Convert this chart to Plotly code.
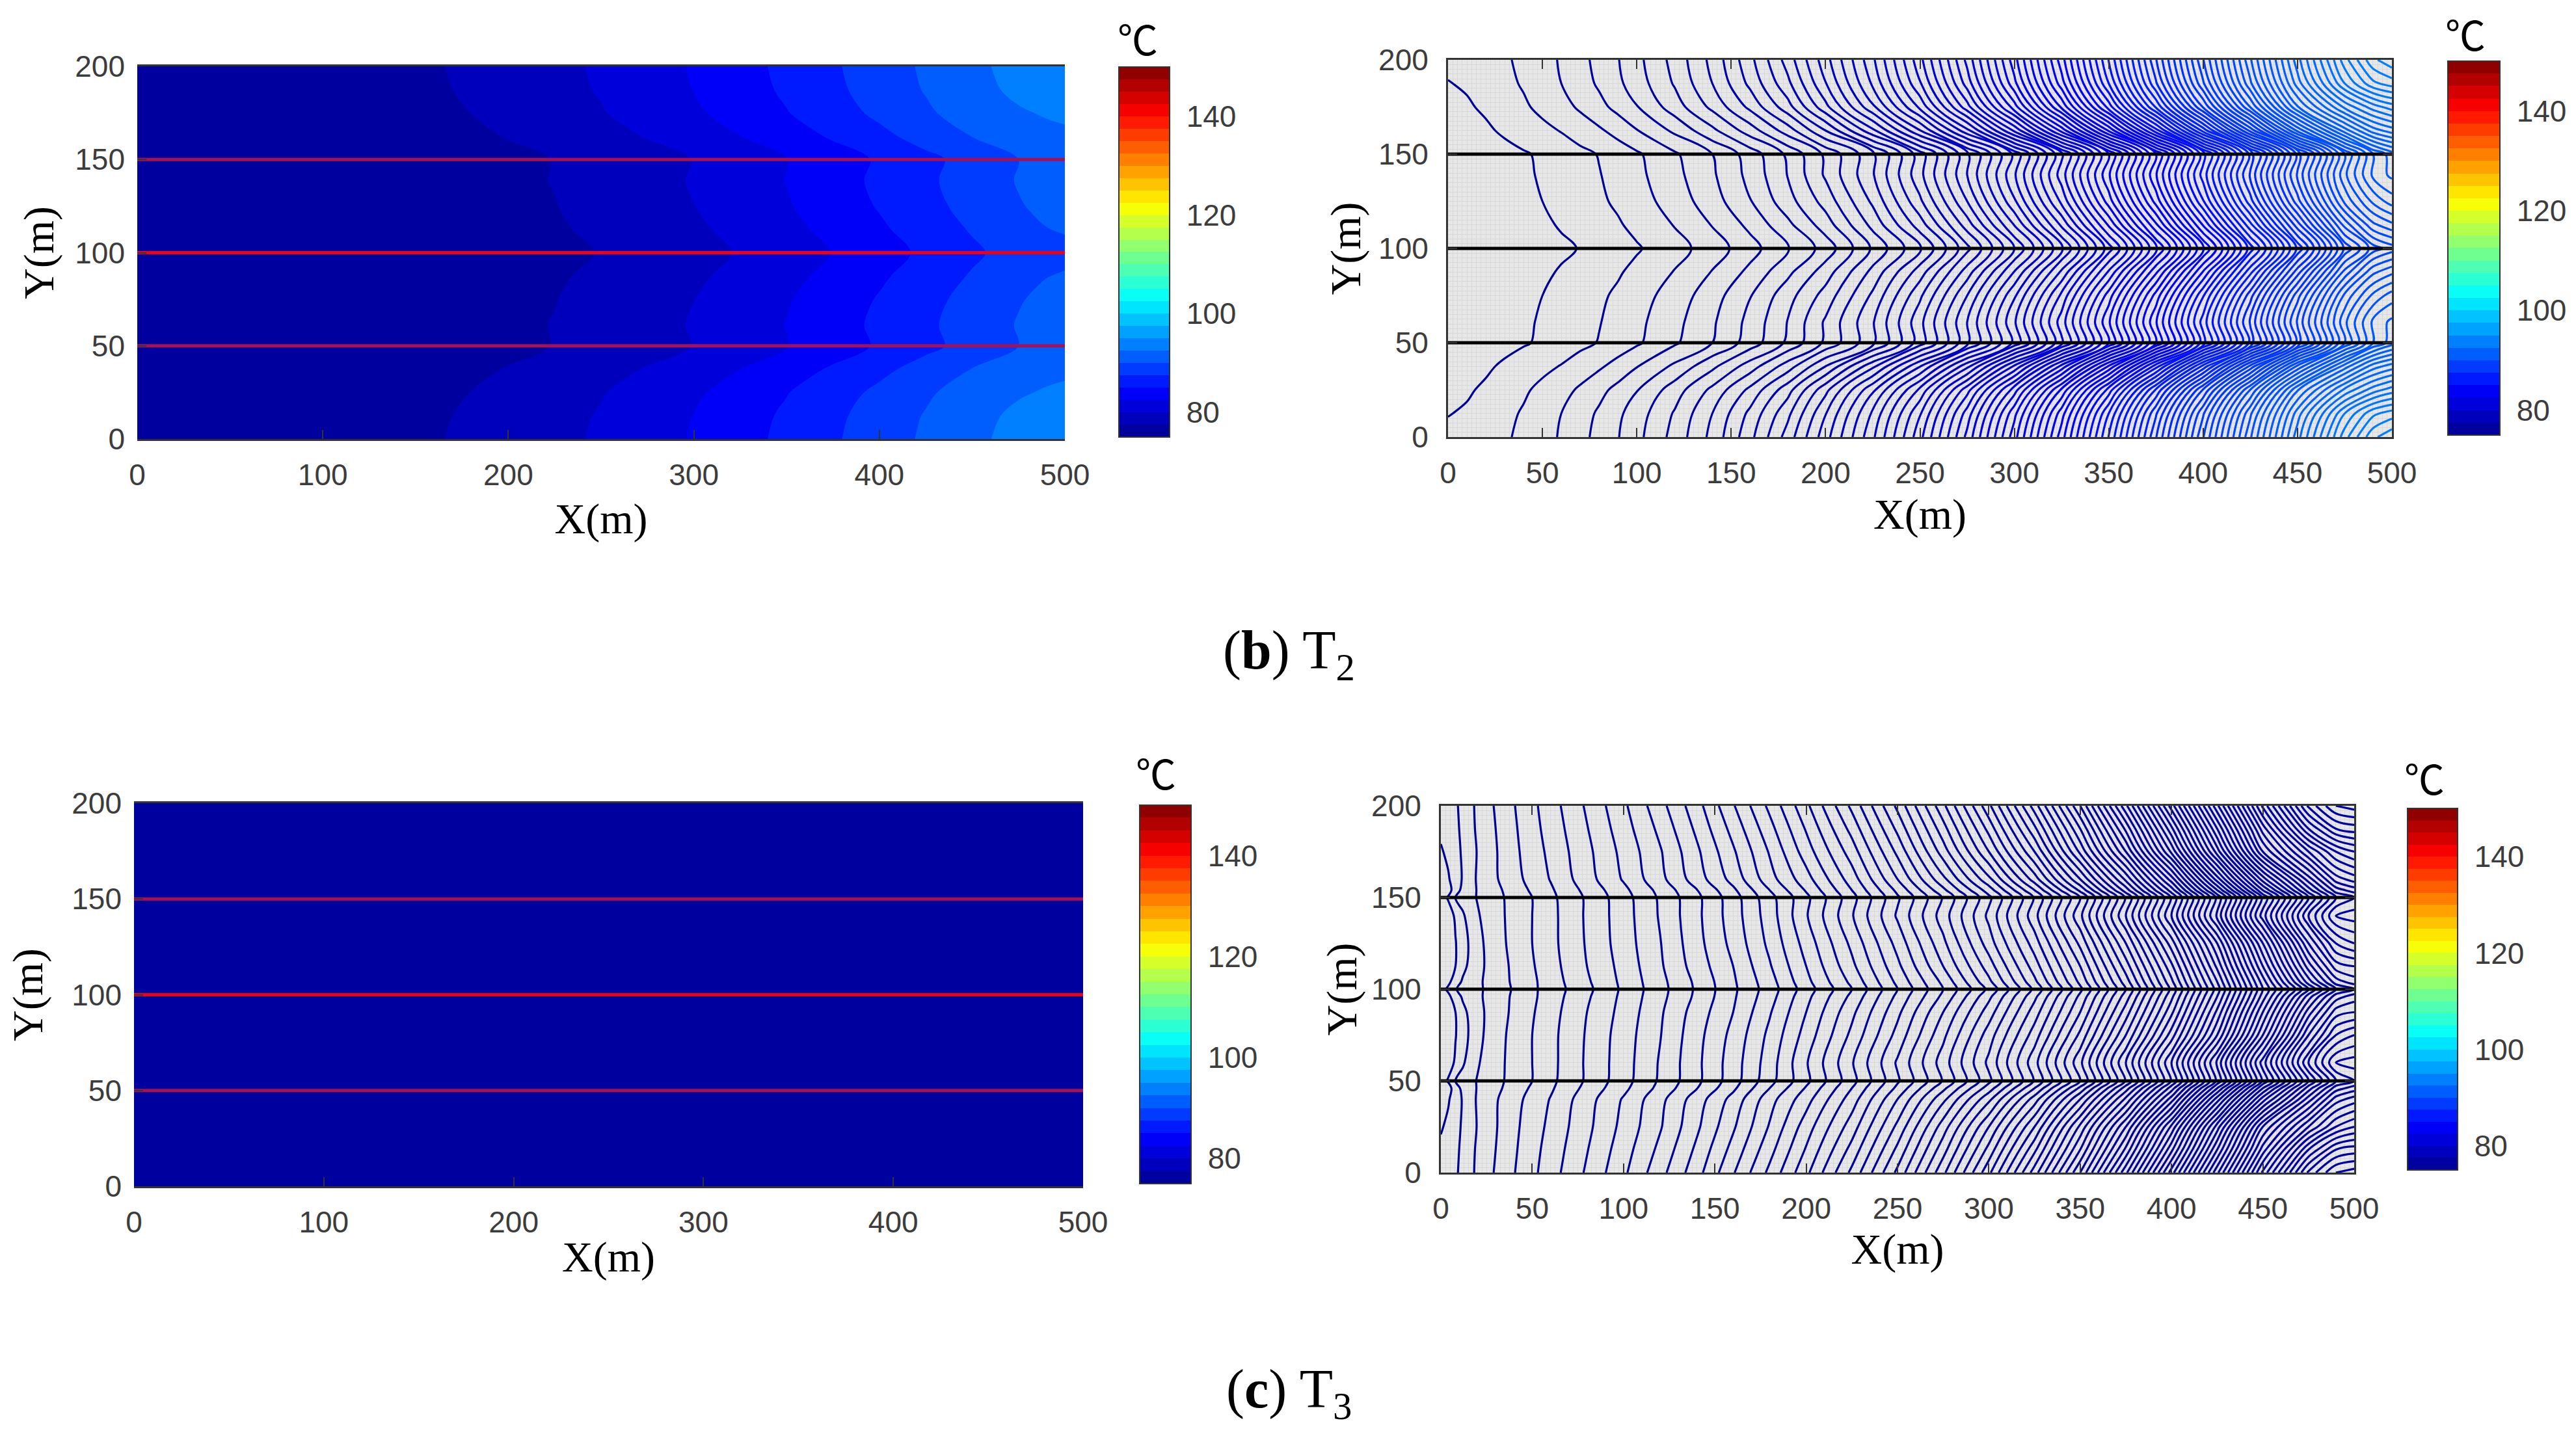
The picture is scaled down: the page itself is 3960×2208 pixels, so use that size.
import plotly.graph_objects as go

W, H = 3960, 2208

# ---------- data ----------
T_BASE = 75.0
CBAR_MIN, CBAR_MAX, CBAR_BANDS = 75.0, 150.0, 30
CBAR_TICKS = [80, 100, 120, 140]
FRACTURE_Y = [50, 100, 150]
Y_TICKS = [0, 50, 100, 150, 200]
X_TICKS_COARSE = [0, 100, 200, 300, 400, 500]
X_TICKS_FINE = [0, 50, 100, 150, 200, 250, 300, 350, 400, 450, 500]

T2_X = [0, 10, 20, 30, 40, 50, 60, 70, 80, 90, 100, 120, 140, 160, 180, 200, 225, 250, 275, 300,
        325, 350, 375, 400, 425, 450, 475, 490, 500]
T2_Y_LOWER = [0, 12.5, 25, 37.5, 50, 61, 75, 87.5, 100]
T2_RISE_LOWER = [
    [.26, .28, .32, .37, .45, .53, .62, .74, .86, .99, 1.14, 1.47, 1.86, 2.34, 2.89, 3.52, 4.36, 5.335, 6.46, 7.72, 9.11, 10.61, 12.185, 13.785, 15.37, 16.92, 18.32, 18.95, 19.15],
    [.19, .23, .28, .35, .42, .51, .6, .71, .83, .96, 1.1, 1.42, 1.8, 2.25, 2.75, 3.39, 4.24, 5.18, 6.29, 7.54, 8.91, 10.4, 11.97, 13.57, 15.16, 16.7, 18.0, 18.55, 18.7],
    [.1, .17, .24, .31, .37, .45, .53, .63, .74, .86, .99, 1.3, 1.65, 2.05, 2.52, 3.14, 3.96, 4.85, 5.92, 7.11, 8.44, 9.89, 11.43, 13.02, 14.61, 16.18, 17.25, 17.7, 17.9],
    [.04, .08, .16, .24, .3, .35, .41, .49, .57, .67, .79, 1.04, 1.35, 1.7, 2.1, 2.6, 3.35, 4.19, 5.14, 6.235, 7.47, 8.83, 10.31, 11.87, 13.465, 15.05, 16.3, 16.9, 17.1],
    [0, .03, .07, .12, .18, .23, .29, .35, .41, .49, .57, .77, 1.0, 1.29, 1.64, 2.04, 2.55, 3.3, 4.15, 5.05, 6.15, 7.4, 8.8, 10.3, 11.85, 13.45, 15.0, 15.8, 16.1],
    [0, .03, .07, .12, .17, .22, .28, .33, .39, .47, .55, .74, .97, 1.26, 1.61, 2.03, 2.58, 3.34, 4.2, 5.17, 6.3, 7.57, 8.98, 10.49, 12.04, 13.64, 15.15, 15.85, 16.05],
    [0, .02, .06, .1, .15, .2, .26, .31, .37, .43, .51, .69, .91, 1.19, 1.52, 1.88, 2.44, 3.16, 4.0, 4.97, 6.05, 7.3, 8.68, 10.18, 11.72, 13.32, 14.85, 15.45, 15.7],
    [0, .01, .03, .07, .11, .16, .22, .27, .33, .38, .45, .61, .81, 1.05, 1.35, 1.7, 2.26, 2.9, 3.7, 4.61, 5.64, 6.83, 8.16, 9.62, 11.14, 12.71, 14.27, 14.95, 15.15],
    [0, .01, .02, .05, .08, .11, .16, .21, .26, .32, .38, .52, .7, .92, 1.19, 1.48, 2.03, 2.58, 3.34, 4.2, 5.17, 6.3, 7.57, 8.98, 10.49, 12.04, 13.64, 14.3, 14.5],
]

T3_X = [0, 4, 8, 12, 16, 20, 30, 40, 50, 60, 80, 100, 120, 140, 160, 180, 200, 225, 250, 275, 300,
        325, 350, 375, 400, 425, 450, 475, 490, 500]
T3_Y_LOWER = [0, 12.5, 25, 40, 46, 50, 60, 75, 87.5, 96, 100]
T3_RISE_LOWER = [
    [.03, .032, .037, .046, .055, .064, .082, .099, .115, .131, .163, .196, .233, .272, .318, .365, .415, .485, .565, .655, .755, .87, 1.0, 1.155, 1.33, 1.515, 1.705, 1.865, 1.92, 1.93],
    [.024, .028, .035, .045, .054, .063, .08, .097, .113, .128, .159, .191, .225, .264, .307, .353, .402, .467, .545, .632, .727, .835, .96, 1.105, 1.275, 1.46, 1.65, 1.80, 1.86, 1.87],
    [.018, .024, .033, .043, .052, .061, .0785, .0955, .11, .125, .155, .186, .218, .256, .297, .342, .39, .45, .525, .61, .70, .80, .925, 1.06, 1.225, 1.41, 1.60, 1.72, 1.78, 1.80],
    [.012, .018, .029, .042, .053, .062, .078, .093, .107, .121, .152, .182, .214, .25, .287, .332, .372, .43, .50, .575, .655, .75, .86, .985, 1.13, 1.31, 1.49, 1.63, 1.71, 1.73],
    [.008, .012, .03, .046, .054, .061, .075, .089, .103, .117, .146, .175, .206, .239, .276, .32, .362, .42, .485, .555, .63, .72, .825, .95, 1.09, 1.26, 1.44, 1.59, 1.67, 1.69],
    [.01, .022, .041, .048, .055, .061, .074, .087, .10, .115, .143, .172, .203, .235, .271, .313, .355, .413, .477, .542, .615, .702, .80, .922, 1.062, 1.225, 1.404, 1.56, 1.64, 1.66],
    [.003, .01, .023, .037, .049, .058, .073, .087, .10, .114, .143, .171, .202, .235, .27, .31, .358, .418, .483, .55, .625, .713, .815, .94, 1.08, 1.245, 1.43, 1.60, 1.68, 1.69],
    [0, .01, .019, .031, .043, .054, .072, .086, .10, .114, .142, .17, .199, .233, .266, .305, .348, .405, .467, .535, .61, .69, .785, .90, 1.03, 1.18, 1.36, 1.54, 1.62, 1.64],
    [.002, .01, .02, .034, .045, .054, .07, .084, .098, .112, .14, .167, .197, .229, .26, .298, .34, .395, .455, .52, .59, .67, .76, .87, .995, 1.145, 1.32, 1.49, 1.57, 1.58],
    [.008, .015, .03, .043, .05, .056, .07, .083, .096, .11, .137, .165, .194, .224, .257, .292, .334, .385, .445, .505, .575, .655, .745, .85, .975, 1.12, 1.29, 1.45, 1.53, 1.55],
    [.01, .024, .039, .045, .051, .056, .069, .082, .096, .109, .135, .164, .193, .223, .256, .29, .33, .38, .44, .50, .565, .645, .735, .84, .965, 1.11, 1.28, 1.42, 1.50, 1.52],
]

T2_LINE_LEVELS = dict(start=75.2, end=95.0, size=0.2)
T3_LINE_LEVELS = dict(start=75.02, end=76.94, size=0.02)

CAPTIONS = ["(<b>b</b>) T<sub>2</sub>", "(<b>c</b>) T<sub>3</sub>"]
UNIT = "℃"

# ---------- colours ----------
JET_STOPS = [(0, (0, 0, 143)), (1 / 8, (0, 0, 255)), (3 / 8, (0, 255, 255)),
             (5 / 8, (255, 255, 0)), (7 / 8, (255, 0, 0)), (1, (128, 0, 0))]


def jet_at(t):
    for (a, ca), (b, cb) in zip(JET_STOPS, JET_STOPS[1:]):
        if t <= b:
            f = (t - a) / (b - a)
            return "rgb(%d,%d,%d)" % tuple(round(p + (q - p) * f) for p, q in zip(ca, cb))
    return "rgb(128,0,0)"


JET = [[a, "rgb(%d,%d,%d)" % c] for a, c in JET_STOPS]
JET_STEPPED = []
for i in range(CBAR_BANDS):
    col = jet_at((i + 0.5) / CBAR_BANDS)
    JET_STEPPED += [[i / CBAR_BANDS, col], [(i + 1) / CBAR_BANDS, col]]


def level_scale(levels):
    """Slice of the 75-150 jet scale that covers just the drawn contour levels."""
    lo, hi = levels["start"], levels["end"]
    tlo, thi = (lo - CBAR_MIN) / (CBAR_MAX - CBAR_MIN), (hi - CBAR_MIN) / (CBAR_MAX - CBAR_MIN)
    stops = [tlo] + [a for a, _ in JET_STOPS if tlo < a < thi] + [thi]
    return [[(t - tlo) / (thi - tlo), jet_at(t)] for t in stops]


def grid(rows_lower, y_lower):
    """The field is mirror-symmetric about y = 100."""
    rows = [[T_BASE + v for v in r] for r in rows_lower]
    return y_lower + [200 - y for y in y_lower[-2::-1]], rows + rows[-2::-1]


T2_Y, T2_Z = grid(T2_RISE_LOWER, T2_Y_LOWER)
T3_Y, T3_Z = grid(T3_RISE_LOWER, T3_Y_LOWER)

# ---------- panels (pixel boxes) ----------
PANELS = [
    dict(kind="fill", X=T2_X, Y=T2_Y, Z=T2_Z, box=(211, 102, 1637, 675), cbar=(1720, 103, 1798, 672),
         xticks=X_TICKS_COARSE, unit=(1749, 58), xst=19, yst=11),
    dict(kind="lines", X=T2_X, Y=T2_Y, Z=T2_Z, box=(2226, 92, 3677, 672), cbar=(3763, 94, 3843, 669),
         xticks=X_TICKS_FINE, unit=(3790, 51), levels=T2_LINE_LEVELS, xst=15, yst=6),
    dict(kind="fill", X=T3_X, Y=T3_Y, Z=T3_Z, box=(206, 1235, 1665, 1824), cbar=(1752, 1238, 1831, 1820),
         xticks=X_TICKS_COARSE, unit=(1777, 1187), xst=5, yst=23),
    dict(kind="lines", X=T3_X, Y=T3_Y, Z=T3_Z, box=(2215, 1239, 3619, 1803), cbar=(3701, 1243, 3778, 1799),
         xticks=X_TICKS_FINE, unit=(3727, 1195), levels=T3_LINE_LEVELS, xst=12, yst=1),
]
CAPTION_POS = [(1982, 1006), (1982, 2142)]

TICK_FONT = dict(family="Liberation Sans", size=46, color="#3c3c3c")
TITLE_FONT = dict(family="Liberation Serif", size=66, color="#000000")
FRACTURE_RED = ["#a8104f", "#f00010", "#a8104f"]

fig = go.Figure()
anns = []
layout = dict(
    width=W, height=H, autosize=False, margin=dict(l=0, r=0, t=0, b=0, autoexpand=False),
    paper_bgcolor="white", plot_bgcolor="#e7e7e7", showlegend=False,
)

for n, p in enumerate(PANELS, start=1):
    xn, yn = ("x", "y") if n == 1 else (f"x{n}", f"y{n}")
    x0, y0, x1, y1 = p["box"]
    is_lines = p["kind"] == "lines"
    common_axis = dict(
        ticks="inside", ticklen=14, tickwidth=2, tickcolor="#333333", mirror="ticks" if is_lines else True,
        tickfont=TICK_FONT, zeroline=False,
    )
    fine = dict(showgrid=is_lines, gridcolor="#d8d8d8", gridwidth=1,
                minor=dict(dtick=2.5, showgrid=is_lines, gridcolor="#d8d8d8", gridwidth=1, ticks=""))
    layout["xaxis" if n == 1 else f"xaxis{n}"] = dict(
        domain=[x0 / W, x1 / W], range=[0, 500], anchor=yn, tickvals=p["xticks"],
        showline=True, linecolor="#333333", linewidth=3, ticklabelstandoff=13,
        title=dict(text="X(m)", font=TITLE_FONT, standoff=p["xst"]), **common_axis, **fine)
    layout["yaxis" if n == 1 else f"yaxis{n}"] = dict(
        domain=[1 - y1 / H, 1 - y0 / H], range=[0, 200], anchor=xn, tickvals=Y_TICKS,
        showline=is_lines, linecolor="#333333", linewidth=3, ticklabelstandoff=18,
        title=dict(text="Y(m)", font=TITLE_FONT, standoff=p["yst"]), **common_axis, **fine)

    if is_lines:
        fig.add_trace(go.Contour(
            x=p["X"], y=p["Y"], z=p["Z"], xaxis=xn, yaxis=yn, showscale=False, hoverinfo="skip",
            colorscale=level_scale(p["levels"]),
            contours=dict(coloring="lines", showlabels=False, **p["levels"]),
            line=dict(width=3.2, smoothing=1.0)))
    else:
        fig.add_trace(go.Contour(
            x=p["X"], y=p["Y"], z=p["Z"], xaxis=xn, yaxis=yn, showscale=False, hoverinfo="skip",
            colorscale=JET, zmin=CBAR_MIN, zmax=CBAR_MAX, zauto=False,
            contours=dict(coloring="fill", showlines=False, start=CBAR_MIN, end=CBAR_MAX,
                          size=(CBAR_MAX - CBAR_MIN) / CBAR_BANDS),
            line=dict(width=0, smoothing=1.0)))

    for fy, red in zip(FRACTURE_Y, FRACTURE_RED):
        fig.add_trace(go.Scatter(
            x=[0, 500], y=[fy, fy], xaxis=xn, yaxis=yn, mode="lines", hoverinfo="skip",
            line=dict(color="#000000" if is_lines else red, width=5)))

    cx0, cy0, cx1, cy1 = p["cbar"]
    fig.add_trace(go.Scatter(
        x=[None, None], y=[None, None], xaxis=xn, yaxis=yn, mode="markers", hoverinfo="skip",
        marker=dict(color=[CBAR_MIN, CBAR_MAX], cmin=CBAR_MIN, cmax=CBAR_MAX, colorscale=JET_STEPPED,
                    opacity=0, size=1, showscale=True,
                    colorbar=dict(
                        x=cx0 / W, xanchor="left", xpad=0, ypad=0, y=1 - cy1 / H, yanchor="bottom",
                        len=(cy1 - cy0) / H, lenmode="fraction", thickness=cx1 - cx0, thicknessmode="pixels",
                        tickvals=CBAR_TICKS, tickfont=TICK_FONT, ticks="outside", ticklen=16,
                        tickcolor="rgba(0,0,0,0)", outlinewidth=2, outlinecolor="#333333",
                        borderwidth=0))))

    ux, uy = p["unit"]
    anns.append(dict(text=UNIT, x=ux / W, y=1 - uy / H, xref="paper", yref="paper", showarrow=False,
                     xanchor="center", yanchor="middle",
                     font=dict(family="Noto Sans CJK SC", size=62, color="#000000")))

for txt, (cx, cy) in zip(CAPTIONS, CAPTION_POS):
    anns.append(dict(text=txt, x=cx / W, y=1 - cy / H, xref="paper", yref="paper", showarrow=False,
                     xanchor="center", yanchor="middle",
                     font=dict(family="Liberation Serif", size=84, color="#000000")))

fig.update_layout(**layout, annotations=anns)
fig.write_html("out.html", config={"displayModeBar": False},
               post_script="document.body.style.margin='0';")
